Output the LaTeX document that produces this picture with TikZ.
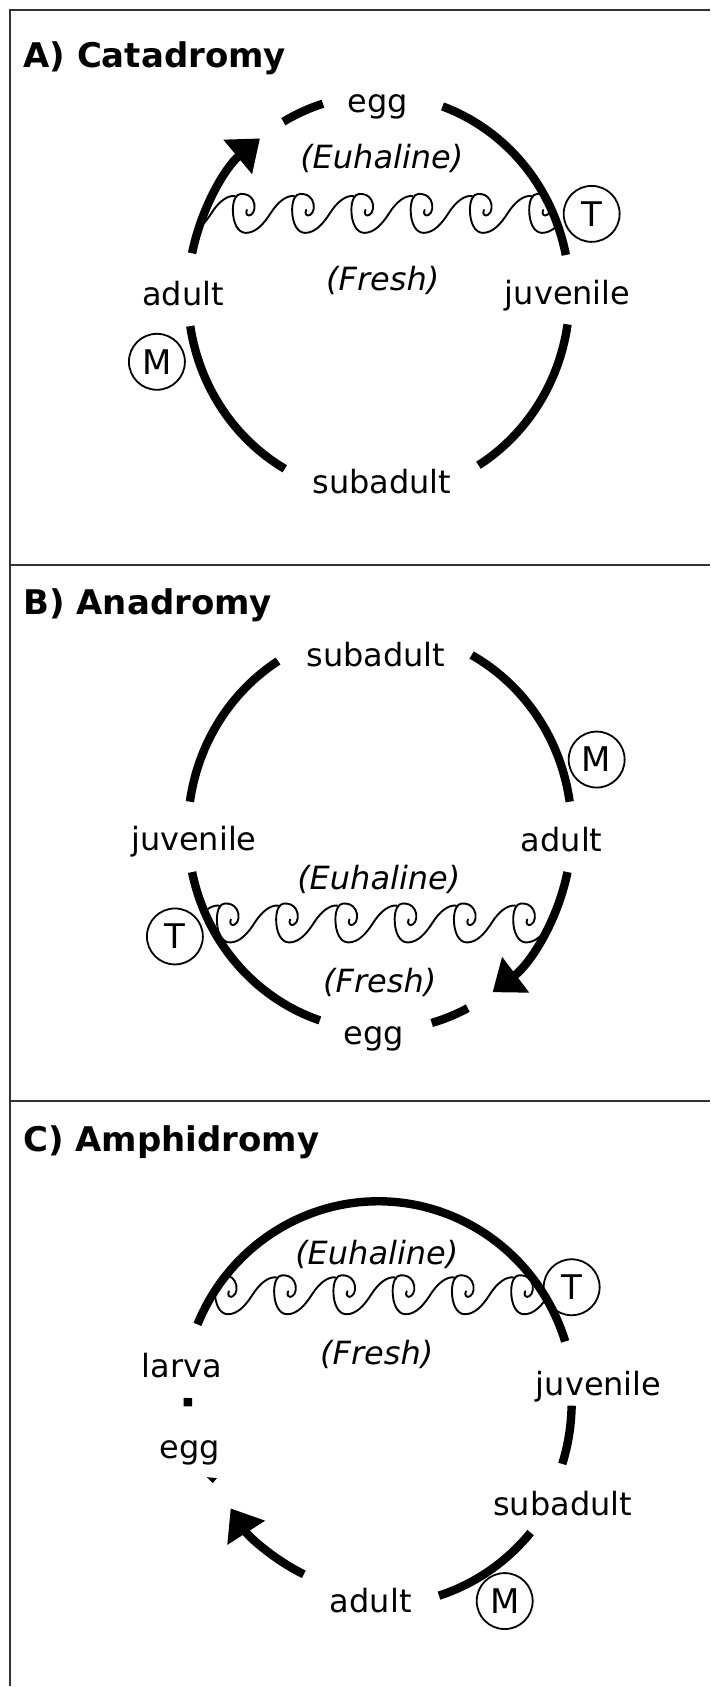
\documentclass[tikz,border=0pt]{standalone}
\usepackage{fontspec}
\setmainfont{DejaVu Sans}
\usetikzlibrary{arrows.meta, positioning}

\tikzset{
    ciclo/.style={line width=4.2pt},
    freccia/.style={line width=4.2pt, -{Triangle[length=14.5pt, width=21.5pt]}},
    onda/.style={line width=0.95pt, line cap=round, line join=round},
    stadio/.style={font=\fontsize{16}{19}\selectfont, anchor=base, inner sep=0pt},
    acqua/.style={font=\fontsize{16}{19}\selectfont\itshape, anchor=base, inner sep=0pt},
    titolo/.style={font=\fontsize{17}{20}\selectfont\bfseries, anchor=base west, inner sep=0pt},
    cerchio/.style={draw, circle, line width=0.9pt, minimum size=28pt, inner sep=0pt, font=\fontsize{17}{20}\selectfont},
    cornice/.style={line width=1pt, black!80}
}

% un'onda: ricciolo + salita verso la cresta successiva
\newcommand{\onda}[2]{%
    \draw[onda, shift={({#1},{#2})}]
        (14,16) .. controls (12,20) and (15,23) .. (18,21)
        .. controls (22,19) and (23,11) .. (20,6)
        .. controls (17,1) and (13,0) .. (8,0)
        .. controls (3,0) and (0,7) .. (0,16)
        .. controls (0,29) and (5,39) .. (13,39)
        .. controls (23,39) and (31,30) .. (38,19)
        .. controls (45,8) and (54,1) .. (61.5,2.2);
}

\begin{document}
\begin{tikzpicture}[x=0.5pt, y=-0.5pt]
    % Sfondo e cornice
    \fill[white] (0,0) rectangle (710,1687);
    \draw[cornice] (10,1687) -- (10,10) -- (710,10);
    \draw[cornice] (10,565) -- (710,565);
    \draw[cornice] (10,1102) -- (710,1102);

    % A) Catadromy
    \node[titolo] (A-tit) at (23,68) {A) Catadromy};
    \coordinate (A) at (379,295);
    \begin{scope}
        \clip (A) ellipse [x radius=194, y radius=203];
        \foreach \k in {-1,...,5}{
            \onda{233+59.3*\k}{194}
        }
    \end{scope}
    \draw[freccia] (A) ++(192:191 and 200) arc[start angle=192, end angle=231.5, x radius=191, y radius=200];
    \draw[ciclo] (A) ++(240:191 and 200) arc[start angle=240, end angle=253, x radius=191, y radius=200];
    \draw[ciclo] (A) ++(289.5:191 and 200) arc[start angle=289.5, end angle=348.5, x radius=191, y radius=200];
    \draw[ciclo] (A) ++(8.5:191 and 200) arc[start angle=8.5, end angle=58.5, x radius=191, y radius=200];
    \draw[ciclo] (A) ++(119.5:191 and 200) arc[start angle=119.5, end angle=171, x radius=191, y radius=200];
    \node[stadio] (A-egg) at (378,113) {egg};
    \node[acqua] (A-euh) at (382,169) {(Euhaline)};
    \node[acqua] (A-fresh) at (383,291) {(Fresh)};
    \node[stadio] (A-adult) at (183,306) {adult};
    \node[stadio] (A-juv) at (568,305) {juvenile};
    \node[stadio] (A-sub) at (382,494) {subadult};
    \node[cerchio] (A-T) at (592,214) {T};
    \node[cerchio] (A-M) at (157,362) {M};

    % B) Anadromy
    \node[titolo] (B-tit) at (23,615) {B) Anadromy};
    \coordinate (B) at (380,831);
    \begin{scope}
        \clip (B) ellipse [x radius=195, y radius=203];
        \foreach \k in {-1,...,5}{
            \onda{217+59.3*\k}{904}
        }
    \end{scope}
    \draw[freccia] (B) ++(12:192 and 200) arc[start angle=12, end angle=54, x radius=192, y radius=200];
    \draw[ciclo] (B) ++(62.7:192 and 200) arc[start angle=62.7, end angle=74.3, x radius=192, y radius=200];
    \draw[ciclo] (B) ++(108.2:192 and 200) arc[start angle=108.2, end angle=168, x radius=192, y radius=200];
    \draw[ciclo] (B) ++(188.3:192 and 200) arc[start angle=188.3, end angle=238, x radius=192, y radius=200];
    \draw[ciclo] (B) ++(298.6:192 and 200) arc[start angle=298.6, end angle=351.7, x radius=192, y radius=200];
    \node[stadio] (B-sub) at (376,667) {subadult};
    \node[stadio] (B-juv) at (194,851) {juvenile};
    \node[stadio] (B-adult) at (562,852) {adult};
    \node[acqua] (B-euh) at (379,890) {(Euhaline)};
    \node[acqua] (B-fresh) at (380,993) {(Fresh)};
    \node[stadio] (B-egg) at (374,1045) {egg};
    \node[cerchio] (B-T) at (175,937) {T};
    \node[cerchio] (B-M) at (597,760) {M};

    % C) Amphidromy
    \node[titolo] (C-tit) at (23,1152) {C) Amphidromy};
    \coordinate (C) at (380,1403);
    \coordinate (Ct) at (378.5,1402);
    \begin{scope}
        \clip (Ct) ellipse [x radius=200, y radius=203];
        \foreach \k in {-1,...,5}{
            \onda{215+59.3*\k}{1276}
        }
    \end{scope}
    \draw[ciclo] (Ct) ++(202.6:196 and 200) arc[start angle=202.6, end angle=342.6, x radius=196, y radius=200];
    \draw[ciclo] (C) ++(1:192 and 200) arc[start angle=1, end angle=18, x radius=192, y radius=200];
    \draw[ciclo] (C) ++(40:197 and 203) arc[start angle=40, end angle=72.5, x radius=197, y radius=203];
    \draw[freccia] (C) ++(115:180 and 190) arc[start angle=115, end angle=146, x radius=180, y radius=190];
    \draw[ciclo] (C) ++(178.8:192 and 200) arc[start angle=178.8, end angle=181.2, x radius=192, y radius=200];
    \fill (207,1478) -- (217,1479) -- (213,1484) -- cycle;
    \node[acqua] (C-euh) at (377,1265) {(Euhaline)};
    \node[acqua] (C-fresh) at (377,1365) {(Fresh)};
    \node[stadio] (C-larva) at (182,1378) {larva};
    \node[stadio] (C-egg) at (190,1459) {egg};
    \node[stadio] (C-juv) at (599,1396) {juvenile};
    \node[stadio] (C-sub) at (563,1516) {subadult};
    \node[stadio] (C-adult) at (371,1613) {adult};
    \node[cerchio] (C-T) at (572,1288) {T};
    \node[cerchio] (C-M) at (505,1602) {M};
\end{tikzpicture}
\end{document}
